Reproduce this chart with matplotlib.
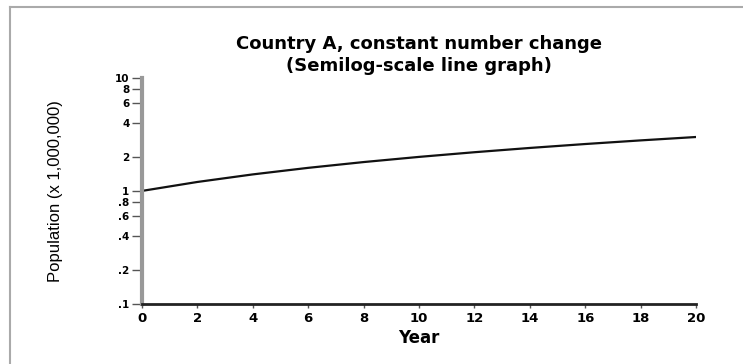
import matplotlib
matplotlib.use("Agg")
import matplotlib.pyplot as plt
from matplotlib.lines import Line2D
from matplotlib.transforms import ScaledTranslation

years = [0, 2, 4, 6, 8, 10, 12, 14, 16, 18, 20]
population = [1.0, 1.2, 1.4, 1.6, 1.8, 2.0, 2.2, 2.4, 2.6, 2.8, 3.0]

y_ticks = [0.1, 0.2, 0.4, 0.6, 0.8, 1, 2, 4, 6, 8, 10]
y_tick_labels = [".1", ".2", ".4", ".6", ".8", "1", "2", "4", "6", "8", "10"]
x_ticks = [0, 2, 4, 6, 8, 10, 12, 14, 16, 18, 20]

plt.rcParams["font.family"] = ["DejaVu Sans"]

fig = plt.figure(figsize=(7.43, 3.64), dpi=100)
ax = fig.add_axes([0.191, 0.165, 0.746, 0.621])

ax.plot(years, population, color="#111111", lw=1.6)

ax.set_yscale("log")
ax.set_ylim(0.1, 10)
ax.set_xlim(0, 20)
ax.set_yticks(y_ticks)
ax.set_yticklabels(y_tick_labels)
ax.yaxis.set_minor_locator(matplotlib.ticker.NullLocator())
ax.set_xticks(x_ticks)

for lbl in ax.get_xticklabels():
    lbl.set_fontweight("bold")
    lbl.set_fontsize(9.5)
for lbl in ax.get_yticklabels():
    lbl.set_fontweight("bold")
    lbl.set_fontsize(7.5)

# the labels at 10 and .8 sit tight against their neighbours; nudge them apart
yt = ax.yaxis.get_major_ticks()
for idx, dy in ((10, 2.5), (4, -2.5)):
    lab = yt[idx].label1
    lab.set_transform(lab.get_transform()
                      + ScaledTranslation(0, dy / 72, fig.dpi_scale_trans))

ax.tick_params(axis="y", direction="out", length=7, width=1, color="#555555", pad=2)
ax.tick_params(axis="x", direction="out", length=3, width=1, color="#555555", pad=3)

ax.spines["top"].set_visible(False)
ax.spines["right"].set_visible(False)
ax.spines["left"].set_color("#999999")
ax.spines["left"].set_linewidth(3)
ax.spines["bottom"].set_color("#222222")
ax.spines["bottom"].set_linewidth(2)

ax.set_title("Country A, constant number change\n(Semilog-scale line graph)",
             fontsize=13, fontweight="bold", pad=5, linespacing=1.25)
ax.set_xlabel("Year", fontsize=12, fontweight="bold", labelpad=3)
ax.set_ylabel("Population (x 1,000,000)", fontsize=12,
              family=["Liberation Sans", "DejaVu Sans"])
ax.yaxis.set_label_coords(-0.143, 0.5)

# thin gray frame on the top and left edge of the picture
fig.add_artist(Line2D([0.013, 1.0], [0.981, 0.981], transform=fig.transFigure,
                      color="#aaaaaa", lw=1.5))
fig.add_artist(Line2D([0.013, 0.013], [0.0, 0.981], transform=fig.transFigure,
                      color="#aaaaaa", lw=1.5))

fig.savefig("out.png", dpi=100)
